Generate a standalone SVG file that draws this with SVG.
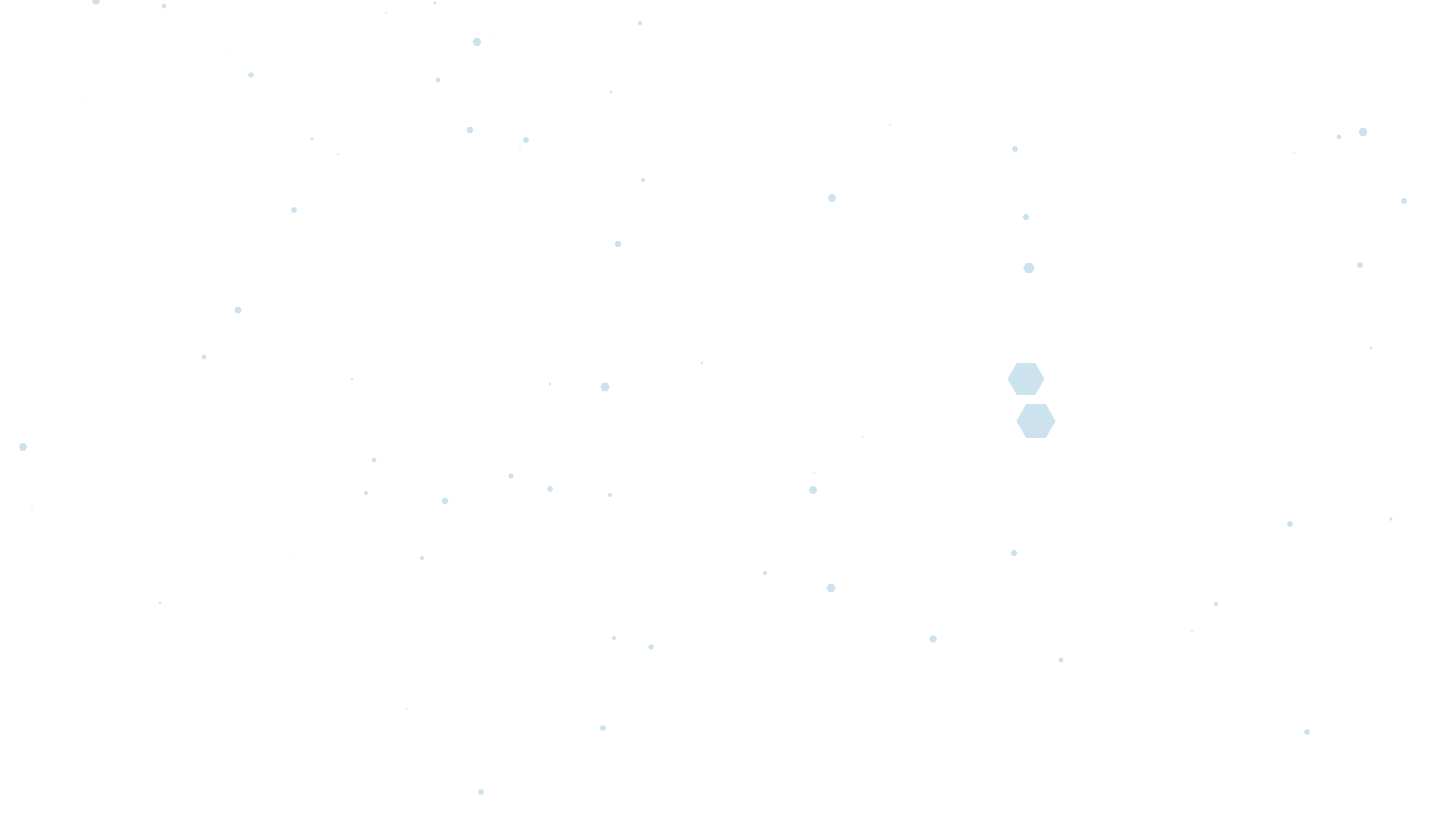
<svg xmlns="http://www.w3.org/2000/svg" xmlns:xlink="http://www.w3.org/1999/xlink" width="1440" height="820" viewBox="0 0 1440 820">
<defs>
<style>
.h{fill:#cde2ef}
</style>
<polygon id="hx" points="1,0 0.5,0.866 -0.5,0.866 -1,0 -0.5,-0.866 0.5,-0.866"/>
</defs>
<rect width="1440" height="820" fill="#ffffff"/>
<g class="h">
<use xlink:href="#hx" href="#hx" transform="translate(1026,379) scale(18.5)"/>
<use href="#hx" transform="translate(1036,421) scale(19.5)"/>
<use href="#hx" transform="translate(96,1) scale(4)"/>
<use href="#hx" transform="translate(164,6) scale(2.5)"/>
<use href="#hx" transform="translate(386,13) scale(1)"/>
<use href="#hx" transform="translate(435,3) scale(1.5)"/>
<use href="#hx" transform="translate(640,23) scale(2.2)"/>
<use href="#hx" transform="translate(477,42) scale(4.5)"/>
<use href="#hx" transform="translate(493,39) scale(0.6)"/>
<use href="#hx" transform="translate(229,49) scale(0.6)"/>
<use href="#hx" transform="translate(251,75) scale(3)"/>
<use href="#hx" transform="translate(438,80) scale(2.7)"/>
<use href="#hx" transform="translate(611,92) scale(1.5)"/>
<use href="#hx" transform="translate(82,98) scale(0.6)"/>
<use href="#hx" transform="translate(470,130) scale(3.6)"/>
<use href="#hx" transform="translate(526,140) scale(3.2)"/>
<use href="#hx" transform="translate(312,139) scale(1.5)"/>
<use href="#hx" transform="translate(338,154) scale(1)"/>
<use href="#hx" transform="translate(520,150) scale(0.8)"/>
<use href="#hx" transform="translate(643,180) scale(2.2)"/>
<use href="#hx" transform="translate(890,125) scale(1)"/>
<use href="#hx" transform="translate(1015,149) scale(3.2)"/>
<use href="#hx" transform="translate(1377,24) scale(0.5)"/>
<use href="#hx" transform="translate(1363,132) scale(4.5)"/>
<use href="#hx" transform="translate(1339,137) scale(2.5)"/>
<use href="#hx" transform="translate(1294,153) scale(0.8)"/>
<use href="#hx" transform="translate(1404,201) scale(3.2)"/>
<use href="#hx" transform="translate(832,198) scale(4.3)"/>
<use href="#hx" transform="translate(294,210) scale(3.2)"/>
<use href="#hx" transform="translate(1026,217) scale(3.4)"/>
<use href="#hx" transform="translate(618,244) scale(3.6)"/>
<use href="#hx" transform="translate(1029,268) scale(5.8)"/>
<use href="#hx" transform="translate(1360,265) scale(3.2)"/>
<use href="#hx" transform="translate(238,310) scale(3.8)"/>
<use href="#hx" transform="translate(1371,348) scale(1.3)"/>
<use href="#hx" transform="translate(204,357) scale(2.6)"/>
<use href="#hx" transform="translate(702,363) scale(1.3)"/>
<use href="#hx" transform="translate(352,379) scale(1.1)"/>
<use href="#hx" transform="translate(550,384) scale(1.3)"/>
<use href="#hx" transform="translate(605,387) scale(4.8)"/>
<use href="#hx" transform="translate(23,447) scale(4.2)"/>
<use href="#hx" transform="translate(863,437) scale(0.8)"/>
<use href="#hx" transform="translate(374,460) scale(2.6)"/>
<use href="#hx" transform="translate(511,476) scale(2.8)"/>
<use href="#hx" transform="translate(814,473) scale(0.8)"/>
<use href="#hx" transform="translate(366,493) scale(2.2)"/>
<use href="#hx" transform="translate(550,489) scale(3.2)"/>
<use href="#hx" transform="translate(610,495) scale(2.2)"/>
<use href="#hx" transform="translate(445,501) scale(3.6)"/>
<use href="#hx" transform="translate(813,490) scale(4.3)"/>
<use href="#hx" transform="translate(32,507) scale(0.8)"/>
<use href="#hx" transform="translate(1290,524) scale(3.2)"/>
<use href="#hx" transform="translate(1391,519) scale(1.6)"/>
<use href="#hx" transform="translate(292,556) scale(0.5)"/>
<use href="#hx" transform="translate(422,558) scale(2.2)"/>
<use href="#hx" transform="translate(1014,553) scale(3.4)"/>
<use href="#hx" transform="translate(765,573) scale(2.2)"/>
<use href="#hx" transform="translate(982,574) scale(0.4)"/>
<use href="#hx" transform="translate(831,588) scale(4.7)"/>
<use href="#hx" transform="translate(160,603) scale(1.3)"/>
<use href="#hx" transform="translate(1216,604) scale(2.2)"/>
<use href="#hx" transform="translate(1192,631) scale(1)"/>
<use href="#hx" transform="translate(614,638) scale(2.2)"/>
<use href="#hx" transform="translate(651,647) scale(3)"/>
<use href="#hx" transform="translate(933,639) scale(4)"/>
<use href="#hx" transform="translate(1061,660) scale(2.6)"/>
<use href="#hx" transform="translate(407,709) scale(0.8)"/>
<use href="#hx" transform="translate(833,713) scale(0.4)"/>
<use href="#hx" transform="translate(603,728) scale(3.2)"/>
<use href="#hx" transform="translate(1307,732) scale(3.2)"/>
<use href="#hx" transform="translate(178,790) scale(0.4)"/>
<use href="#hx" transform="translate(481,792) scale(3.2)"/>
</g>
</svg>
